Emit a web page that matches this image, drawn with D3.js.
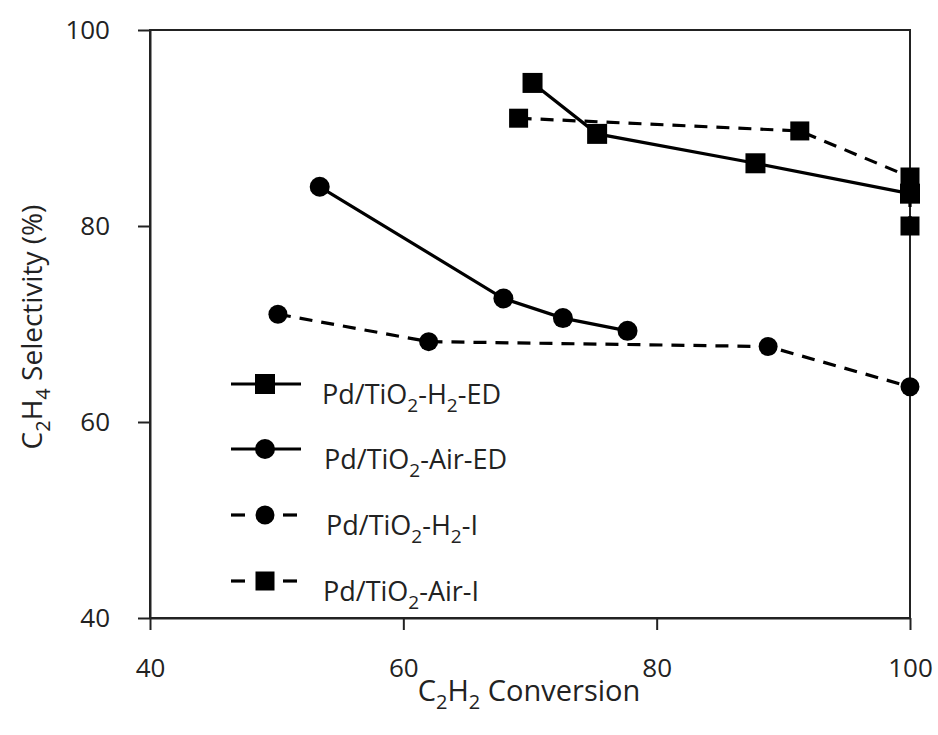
<!DOCTYPE html>
<html>
<head>
<meta charset="utf-8">
<script src="https://cdn.jsdelivr.net/npm/d3@7"></script>
<style>
  html, body { margin: 0; padding: 0; background: #fff; }
  svg { display: block; font-family: "Open Sans", "Noto Sans", sans-serif; }
</style>
</head>
<body>
<svg id="chart" width="938" height="735"></svg>
<script>
// C2H2 conversion (%) vs C2H4 selectivity (%) for four catalysts
const h2EdConversion  = [70.2, 75.3, 87.8, 100];
const h2EdSelectivity = [94.6, 89.4, 86.4, 83.3];

const airEdConversion  = [53.4, 67.9, 72.6, 77.7];
const airEdSelectivity = [84.0, 72.6, 70.6, 69.3];

const h2IConversion  = [50.1, 62.0, 88.8, 100];
const h2ISelectivity = [71.0, 68.2, 67.7, 63.6];

const airIConversion  = [69.1, 91.3, 100, 100];
const airISelectivity = [91.0, 89.7, 85.0, 80.0];

const xTicks = [40, 60, 80, 100];
const yTicks = [40, 60, 80, 100];

// label parts: [text, isSubscript]
const seriesDefs = [
  { name: [["Pd/TiO", 0], ["2", 1], ["-H", 0], ["2", 1], ["-ED", 0]], x: h2EdConversion,  y: h2EdSelectivity,  marker: "square", dashed: false },
  { name: [["Pd/TiO", 0], ["2", 1], ["-Air-ED", 0]],                   x: airEdConversion, y: airEdSelectivity, marker: "circle", dashed: false },
  { name: [["Pd/TiO", 0], ["2", 1], ["-H", 0], ["2", 1], ["-I", 0]],  x: h2IConversion,   y: h2ISelectivity,   marker: "circle", dashed: true },
  { name: [["Pd/TiO", 0], ["2", 1], ["-Air-I", 0]],                    x: airIConversion,  y: airISelectivity,  marker: "square", dashed: true }
];

const svg = d3.select("#chart");
const plotLeft = 150, plotRight = 910, plotTop = 30, plotBottom = 618;
const ink = "#222";

const x = d3.scaleLinear().domain([40, 100]).range([plotLeft, plotRight]);
const y = d3.scaleLinear().domain([40, 100]).range([plotBottom, plotTop]);

// frame
svg.append("rect")
  .attr("x", plotLeft).attr("y", plotTop)
  .attr("width", plotRight - plotLeft).attr("height", plotBottom - plotTop)
  .attr("fill", "none").attr("stroke", ink).attr("stroke-width", 2);

// axes
const xAxis = svg.append("g")
  .attr("transform", `translate(0,${plotBottom})`)
  .call(d3.axisBottom(x).tickValues(xTicks).tickSize(12).tickPadding(29).tickSizeOuter(0));
const yAxis = svg.append("g")
  .attr("transform", `translate(${plotLeft},0)`)
  .call(d3.axisLeft(y).tickValues(yTicks).tickSize(12).tickPadding(28).tickSizeOuter(0));

[xAxis, yAxis].forEach(g => {
  g.attr("font-size", null);
  g.select(".domain").attr("stroke", ink).attr("stroke-width", 2);
  g.selectAll(".tick line").attr("stroke", ink).attr("stroke-width", 2);
  g.selectAll(".tick text")
    .attr("fill", ink)
    .attr("font-size", 26)
    .style("font-size", "26px")
    .style("font-family", "\"Open Sans\", \"Noto Sans\", sans-serif");
});

function drawMarker(g, type, cx, cy, size) {
  if (type === "square") {
    g.append("rect")
      .attr("x", cx - size / 2).attr("y", cy - size / 2)
      .attr("width", size).attr("height", size)
      .attr("fill", "#000");
  } else {
    g.append("circle")
      .attr("cx", cx).attr("cy", cy).attr("r", size / 2)
      .attr("fill", "#000");
  }
}

const line = d3.line().x(d => x(d[0])).y(d => y(d[1]));
const plot = svg.append("g");

seriesDefs.forEach(s => {
  const pts = s.x.map((v, i) => [v, s.y[i]]);
  plot.append("path")
    .datum(pts)
    .attr("d", line)
    .attr("fill", "none")
    .attr("stroke", "#000")
    .attr("stroke-width", 3.2)
    .attr("stroke-dasharray", s.dashed ? "13,9" : null);
  pts.forEach(p => drawMarker(plot, s.marker, x(p[0]), y(p[1]), s.dashed ? 19 : 20));
});

// text with subscripts
function richText(t, parts, size, subSize, shift) {
  let sub = false;
  parts.forEach(([txt, isSub]) => {
    const dy = isSub && !sub ? shift : (!isSub && sub ? -shift : 0);
    t.append("tspan").attr("dy", dy)
      .style("font-size", (isSub ? subSize : size) + "px")
      .text(txt);
    sub = !!isSub;
  });
}

// legend
const legend = svg.append("g");
const legendY = [384, 449, 515, 581];
const legendTextX = [322, 324, 326, 323];
seriesDefs.forEach((s, i) => {
  const ly = legendY[i];
  const row = legend.append("g");
  if (s.dashed) {
    row.append("line").attr("x1", 231).attr("x2", 245).attr("y1", ly).attr("y2", ly)
      .attr("stroke", "#000").attr("stroke-width", 3.2);
    row.append("line").attr("x1", 283).attr("x2", 297).attr("y1", ly).attr("y2", ly)
      .attr("stroke", "#000").attr("stroke-width", 3.2);
  } else {
    row.append("line").attr("x1", 231).attr("x2", 301).attr("y1", ly).attr("y2", ly)
      .attr("stroke", "#000").attr("stroke-width", 3.2);
  }
  drawMarker(row, s.marker, 265, ly, s.dashed ? 19 : 20);

  const t = row.append("text")
    .attr("x", legendTextX[i]).attr("y", ly + 20)
    .attr("fill", ink);
  richText(t, s.name, 27, 19, 8);
});

// axis titles
const xTitle = svg.append("text")
  .attr("x", 529).attr("y", 701)
  .attr("text-anchor", "middle")
  .attr("fill", ink);
richText(xTitle, [["C", 0], ["2", 1], ["H", 0], ["2", 1], [" Conversion", 0]], 29, 20, 8);

const yTitle = svg.append("text")
  .attr("transform", "translate(42,327) rotate(-90)")
  .attr("text-anchor", "middle")
  .attr("fill", ink);
richText(yTitle, [["C", 0], ["2", 1], ["H", 0], ["4", 1], [" Selectivity (%)", 0]], 28, 20, 8);
</script>
</body>
</html>
